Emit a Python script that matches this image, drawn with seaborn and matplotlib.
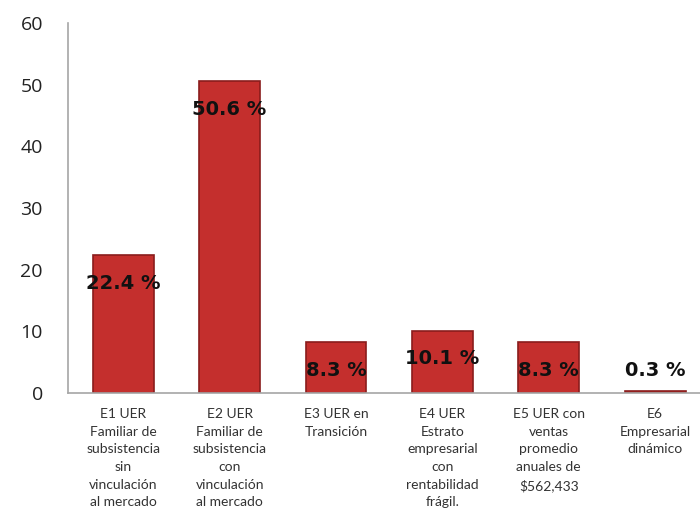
import matplotlib
matplotlib.use("Agg")
import matplotlib.pyplot as plt
import seaborn as sns
import pandas as pd

categorias = [
    "E1 UER\nFamiliar de\nsubsistencia\nsin\nvinculación\nal mercado",
    "E2 UER\nFamiliar de\nsubsistencia\ncon\nvinculación\nal mercado",
    "E3 UER en\nTransición",
    "E4 UER\nEstrato\nempresarial\ncon\nrentabilidad\nfrágil.",
    "E5 UER con\nventas\npromedio\nanuales de\n$562,433",
    "E6\nEmpresarial\ndinámico",
]
porcentajes = [22.4, 50.6, 8.3, 10.1, 8.3, 0.3]
etiquetas = ["22.4 %", "50.6 %", "8.3 %", "10.1 %", "8.3 %", "0.3 %"]

df = pd.DataFrame({"estrato": categorias, "porcentaje": porcentajes})

sns.set_style("white")
plt.rcParams["font.family"] = ["Lato", "DejaVu Sans"]

fig = plt.figure(figsize=(7, 5.19), dpi=100)
ax = fig.add_axes([0.097, 0.243, 0.915, 0.713])

sns.barplot(data=df, x="estrato", y="porcentaje", color="#c42f2d", saturation=1,
            width=0.57, edgecolor="#8a1c1c", linewidth=1.2, ax=ax, zorder=2)

# etiquetas de porcentaje dentro de la barra
for i, (v, t) in enumerate(zip(porcentajes, etiquetas)):
    ax.text(i, max(v - 4.6, 3.7), t, ha="center", va="center",
            fontsize=14, fontweight="bold", color="#111111",
            family=["DejaVu Sans"], zorder=3)

ax.set_ylim(0, 60)
ax.set_xlim(-0.52, 5.5)
ax.set_yticks(range(0, 61, 10))
ax.set_xlabel("")
ax.set_ylabel("")
ax.tick_params(axis="y", labelsize=14, labelcolor="#222222", length=0, pad=18)
ax.tick_params(axis="x", labelsize=10, labelcolor="#333333", length=0, pad=11)
for lab in ax.get_yticklabels():
    lab.set_family(["Open Sans", "DejaVu Sans"])
for lab in ax.get_xticklabels():
    lab.set_linespacing(1.56)

for s in ["top", "right"]:
    ax.spines[s].set_visible(False)
for s in ["left", "bottom"]:
    ax.spines[s].set_color("#a6a6a6")
    ax.spines[s].set_linewidth(1.2)

fig.savefig("out.png", dpi=100)
